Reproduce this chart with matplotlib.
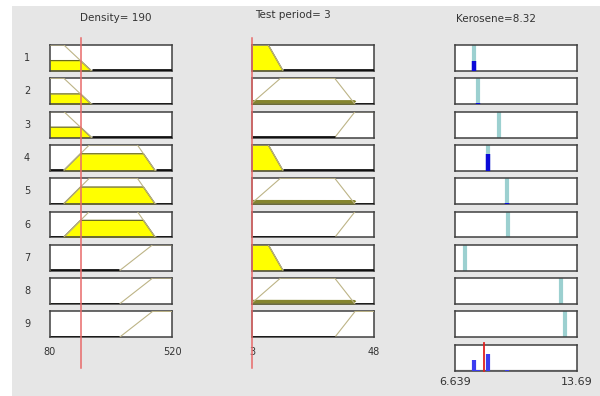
import numpy as np
import matplotlib
matplotlib.use('Agg')
import matplotlib.pyplot as plt
from matplotlib.patches import Rectangle
from matplotlib.lines import Line2D
import matplotlib.transforms as mtrans

# ---------------- data ----------------
density_range = [80, 520]
period_range = [3, 48]
kero_range = [6.639, 13.69]
density_input = 190
period_input = 3
kero_output = 8.32
density_tick_labels = ["80", "520"]
period_tick_labels = ["3", "48"]
kero_tick_labels = ["6.639", "13.69"]
titles = ["Density= 190", "Test period= 3", "Kerosene=8.32"]

density_mfs = {"low": [80, 80, 130, 230],
               "medium": [128, 222, 395, 460],
               "high": [330, 450, 520, 520]}
period_mfs = {"short": [3, 3, 9, 14.5],
              "medium": [2.5, 13.5, 33.5, 41],
              "long": [33.5, 41, 48, 48]}
rule_density = ["low", "low", "low", "medium", "medium", "medium", "high", "high", "high"]
rule_period = ["short", "medium", "long", "short", "medium", "long", "short", "medium", "long"]
rule_output = [7.74, 7.97, 9.18, 8.55, 9.65, 9.68, 7.22, 12.77, 13.0]
rule_labels = ["1", "2", "3", "4", "5", "6", "7", "8", "9"]


def trapmf(x, p):
    a, b, c, d = p
    x = np.asarray(x, dtype=float)
    y = np.ones_like(x)
    if b > a:
        y = np.where(x < b, (x - a) / (b - a), y)
    else:
        y = np.where(x < a, 0.0, y)
    if d > c:
        y = np.where(x > c, (d - x) / (d - c), y)
    else:
        y = np.where(x > d, 0.0, y)
    return np.clip(y, 0, 1)


# ---------------- layout ----------------
W, H = 600, 396
fig = plt.figure(figsize=(W / 100, H / 100), dpi=100)
fig.patch.set_facecolor("white")
fig.add_artist(Rectangle((12 / W, 0), 1 - 12 / W, 1 - 6 / H, transform=fig.transFigure,
                         facecolor="#e6e6e6", edgecolor="none", zorder=-10))

col_x = [(50, 172), (252, 374), (455, 577)]
row_top0, row_pitch, row_h = 45, 33.3, 26


def make_ax(col, row):
    x0, x1 = col_x[col]
    top = row_top0 + row_pitch * row
    ax = fig.add_axes([x0 / W, 1 - (top + row_h) / H, (x1 - x0) / W, row_h / H])
    ax.set_facecolor("white")
    for s in ax.spines.values():
        s.set_color("#404040")
        s.set_linewidth(1.1)
    ax.set_xticks([])
    ax.set_yticks([])
    ax.set_ylim(0, 1.0)
    return ax


def draw_input(ax, rng, p, val):
    xs = np.linspace(rng[0], rng[1], 401)
    ys = trapmf(xs, p)
    mu = float(trapmf([val], p)[0])
    ax.set_xlim(rng)
    clipped = np.minimum(ys, mu)
    if mu > 0:
        mask = ys > 0
        ax.fill_between(xs, 0, clipped, where=mask, color="#ffff00", lw=0, zorder=2)
        lw = 0.9 if mu > 0.2 else 2.6
        col = "#6b6b1a" if mu > 0.2 else "#85852e"
        ax.plot(xs[mask], clipped[mask] + (0 if mu > 0.2 else 0.05), color=col, lw=lw,
                zorder=3, solid_capstyle="butt")
    ax.plot(xs, ys, color="#bdb486", lw=0.8, zorder=3)
    zero = np.where(ys <= 0, 0.02, np.nan)
    ax.plot(xs, zero, color="#111111", lw=2.0, zorder=4, solid_capstyle="butt")
    return mu


firing = []
axes_c1, axes_c2, axes_c3 = [], [], []
for i in range(9):
    a1 = make_ax(0, i)
    m1 = draw_input(a1, density_range, density_mfs[rule_density[i]], density_input)
    a2 = make_ax(1, i)
    m2 = draw_input(a2, period_range, period_mfs[rule_period[i]], period_input)
    w = min(m1, m2)
    firing.append(w)
    a3 = make_ax(2, i)
    a3.set_xlim(kero_range)
    a3.vlines(rule_output[i], 0, 1, color="#9cd0d0", lw=3.0, zorder=2)
    if w > 0:
        a3.vlines(rule_output[i], 0, w, color="#0a0ad8", lw=3.2, zorder=3)
    axes_c1.append(a1); axes_c2.append(a2); axes_c3.append(a3)
    top = row_top0 + row_pitch * i
    fig.text(27 / W, 1 - (top + row_h / 2) / H, rule_labels[i], ha="center", va="center",
             fontsize=7, color="#333333")

# aggregate output panel
agg = make_ax(2, 9)
agg.set_xlim(kero_range)
agg.set_ylim(0, 1.0)
agg.vlines(rule_output, 0, firing, color="#3c3cf0", lw=3.0, zorder=3)
agg.axvline(kero_output, ymin=0, ymax=1.05, color="#e02020", lw=1.3, zorder=4, clip_on=False)
agg.axhline(0.02, color="#bbbbbb", lw=1.0, zorder=2)
axes_c3.append(agg)

# red input lines
for ax, val in [(axes_c1[0], density_input), (axes_c2[0], period_input)]:
    tr = mtrans.blended_transform_factory(ax.transData, fig.transFigure)
    fig.add_artist(Line2D([val, val], [1 - 38 / H, 1 - 368 / H], transform=tr,
                          color="#e86a6a", lw=1.1, zorder=5))

# titles
title_pos = [(116, 18), (293, 15), (496, 19)]
for (x, y), t in zip(title_pos, titles):
    fig.text(x / W, 1 - y / H, t, ha="center", va="center", fontsize=7.5, color="#333333")

# range labels
def range_labels(ax, rng, labels, ypx, fs):
    tr = mtrans.blended_transform_factory(ax.transData, fig.transFigure)
    ax.text(rng[0], 1 - ypx / H, labels[0], transform=tr, ha="center", va="center",
            fontsize=fs, color="#333333", clip_on=False)
    ax.text(rng[1], 1 - ypx / H, labels[1], transform=tr, ha="center", va="center",
            fontsize=fs, color="#333333", clip_on=False)

range_labels(axes_c1[-1], density_range, density_tick_labels, 352, 7)
range_labels(axes_c2[-1], period_range, period_tick_labels, 352, 7)
range_labels(agg, kero_range, kero_tick_labels, 382, 8)

fig.savefig("out.png", dpi=100, facecolor=fig.get_facecolor())
